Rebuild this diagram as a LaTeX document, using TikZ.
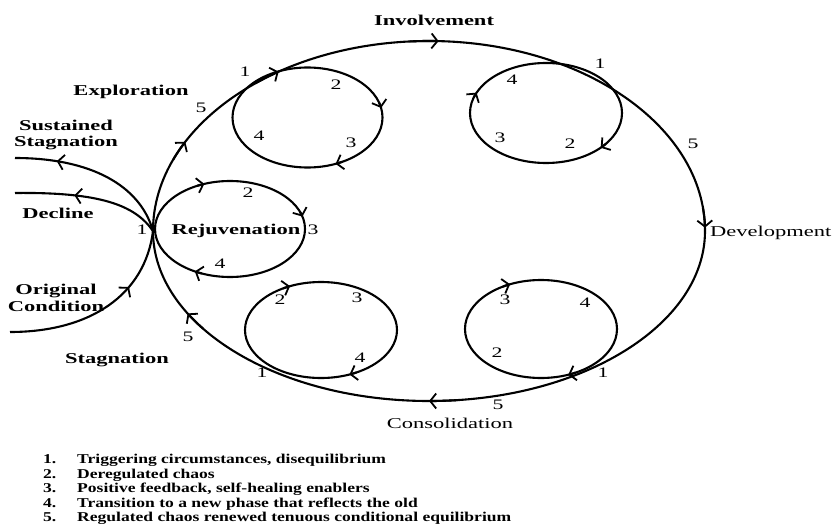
\documentclass[tikz,border=0pt]{standalone}
\usepackage{fontspec}
\setmainfont{Liberation Serif}
\usetikzlibrary{arrows.meta,decorations.markings}
\newcommand\sx[1]{\scalebox{1.5}[1]{#1}}
\newcommand\lx[1]{\scalebox{1.3}[1]{#1}}
\newcommand\ArcTip[4]{\draw[ln,tip] ([shift={({#4-6}:#2 and #3)}]#1) arc[start angle={#4-6}, end angle={#4}, x radius=#2, y radius=#3];}
\tikzset{
  ln/.style={line width=2.1pt, black},
  tip/.style={-{Straight Barb[length=6pt,width=15pt,line width=1.8pt]}},
  midtip/.style={postaction={decorate}, decoration={markings, mark=at position #1 with {\arrow{Straight Barb[length=6pt,width=15pt,line width=1.8pt]}}}},
  lbl/.style={font=\fontsize{15}{16}\selectfont\bfseries, inner sep=0pt, align=center},
  lblr/.style={font=\fontsize{15}{16}\selectfont, inner sep=0pt},
  num/.style={font=\fontsize{14.5}{15}\selectfont, inner sep=0pt},
  leg/.style={font=\fontsize{13.5}{14.5}\selectfont\bfseries, inner sep=0pt, anchor=base west}
}
\begin{document}
\begin{tikzpicture}[x=1pt,y=-1pt]
\useasboundingbox (0,0) rectangle (840,524);
% centres
\coordinate (big) at (429,231);
\coordinate (exp) at (307.5,117.5);
\coordinate (inv) at (546,113);
\coordinate (dev) at (541,329);
\coordinate (con) at (321,330);
\coordinate (rej) at (230,229);
\coordinate (j) at (153,231);
\coordinate (ss) at (15,158);
\coordinate (dc) at (15,193);
\coordinate (oc) at (10,332);
% big cycle
\draw[ln] ([shift={(0:276 and 190)}]big) arc[start angle=0, end angle=-180, x radius=276, y radius=190];
\draw[ln] ([shift={(0:276 and 170)}]big) arc[start angle=0, end angle=180, x radius=276, y radius=170];
\ArcTip{big}{276}{190}{272}
\ArcTip{big}{276}{190}{359}
\ArcTip{big}{276}{190}{208}
\ArcTip{big}{276}{190}{237}
\ArcTip{big}{276}{170}{90}
\ArcTip{big}{276}{170}{151}
% loops
\draw[ln] (exp) ellipse[x radius=75, y radius=50];
\draw[ln] (inv) ellipse[x radius=76, y radius=50];
\draw[ln] (dev) ellipse[x radius=76, y radius=49];
\draw[ln] (con) ellipse[x radius=76, y radius=48];
\draw[ln] (rej) ellipse[x radius=75, y radius=48];
\ArcTip{exp}{75}{50}{349}
\ArcTip{exp}{75}{50}{68}
\ArcTip{inv}{76}{50}{44}
\ArcTip{inv}{76}{50}{204}
\ArcTip{dev}{76}{49}{246}
\ArcTip{dev}{76}{49}{69}
\ArcTip{con}{76}{48}{246}
\ArcTip{con}{76}{48}{68}
\ArcTip{rej}{75}{48}{250}
\ArcTip{rej}{75}{48}{345}
\ArcTip{rej}{75}{48}{118}
% exits and entry
\draw[ln, midtip=0.75] (j) .. controls (140,185) and (90,158) .. (ss);
\draw[ln, midtip=0.6] (j) .. controls (135,205) and (100,192) .. (dc);
\draw[ln, midtip=0.68] (oc) .. controls (90,332) and (145,295) .. (j);
% phase labels
\node[lbl] (linv) at (434,20) {\sx{Involvement}};
\node[lbl] (lexp) at (131,92) {\sx{Exploration}};
\node[lbl] (lss) at (66,135) {\sx{Sustained}\\[0pt]\sx{Stagnation}};
\node[lbl] (ldc) at (58,213) {\sx{Decline}};
\node[lbl] (loc) at (56,298) {\sx{Original}\\[1pt]\sx{Condition}};
\node[lbl] (lst) at (117,360) {\sx{Stagnation}};
\node[lbl] (lrej) at (236,231) {\sx{Rejuvenation}};
\node[lblr, anchor=west] (ldev) at (710,233) {\sx{Development}};
\node[lblr] (lcon) at (450,423) {\sx{Consolidation}};
% numbers
\foreach \p/\t in {{(245,72)}/1,{(336,85)}/2,{(351,143)}/3,{(259,136)}/4,{(201,108)}/5,
  {(600,64)}/1,{(570,144)}/2,{(500,138)}/3,{(512,80)}/4,{(693,144)}/5,
  {(603,373)}/1,{(497,353)}/2,{(505,300)}/3,{(585,303)}/4,{(498,405)}/5,
  {(262,373)}/1,{(280,300)}/2,{(357,298)}/3,{(360,358)}/4,{(188,337)}/5,
  {(142,230)}/1,{(248,193)}/2,{(313,230)}/3,{(220,264)}/4}
  \node[num] at \p {\sx{\t}};
% legend
\node[leg] (n1) at (43,463) {\lx{1.}};
\node[leg] (n2) at (43,478) {\lx{2.}};
\node[leg] (n3) at (43,492) {\lx{3.}};
\node[leg] (n4) at (43,507) {\lx{4.}};
\node[leg] (n5) at (43,521) {\lx{5.}};
\node[leg] (t1) at (77,463) {\lx{Triggering circumstances, disequilibrium}};
\node[leg] (t2) at (77,478) {\lx{Deregulated chaos}};
\node[leg] (t3) at (77,492) {\lx{Positive feedback, self-healing enablers}};
\node[leg] (t4) at (77,507) {\lx{Transition to a new phase that reflects the old}};
\node[leg] (t5) at (77,521) {\lx{Regulated chaos renewed tenuous conditional equilibrium}};
\end{tikzpicture}
\end{document}
